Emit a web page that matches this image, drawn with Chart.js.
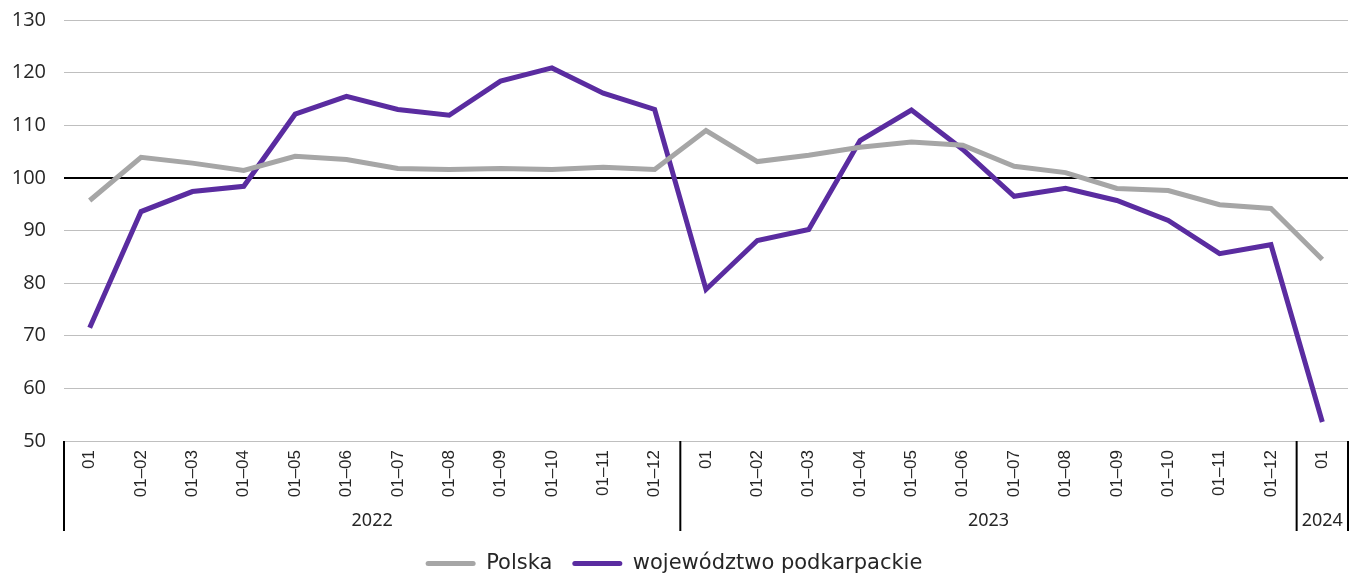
<!DOCTYPE html>
<html>
<head>
<meta charset="utf-8">
<script src="https://cdn.jsdelivr.net/npm/chart.js@4.4.1/dist/chart.umd.min.js"></script>
<style>
  html, body { margin: 0; padding: 0; background: #fff; }
  #wrap { width: 1355px; height: 576px; position: relative; }
</style>
</head>
<body>
<div id="wrap"><canvas id="chart"></canvas></div>
<script>
(function() {
	'use strict';

	// month labels, grouped by year
	var months = [
		'01', '01–02', '01–03', '01–04', '01–05', '01–06', '01–07', '01–08', '01–09', '01–10', '01–11', '01–12',
		'01', '01–02', '01–03', '01–04', '01–05', '01–06', '01–07', '01–08', '01–09', '01–10', '01–11', '01–12',
		'01'
	];
	var years = ['2022', '2023', '2024'];
	var yearSizes = [12, 12, 1];

	var polska = [95.7, 103.9, 102.8, 101.4, 104.1, 103.5, 101.8, 101.6, 101.8, 101.6, 102.0, 101.6,
		109.0, 103.1, 104.3, 105.8, 106.8, 106.2, 102.2, 101.0, 98.0, 97.6, 94.9, 94.2,
		84.5];
	var podkarpackie = [71.5, 93.6, 97.4, 98.4, 112.1, 115.5, 113.0, 111.9, 118.4, 120.9, 116.1, 113.0,
		78.8, 88.1, 90.2, 107.1, 112.9, 105.4, 96.5, 98.0, 95.7, 91.9, 85.6, 87.3,
		53.6];

	var textColor = '#262626';

	// separators + year labels under the month ticks
	var yearGroups = {
		id: 'yearGroups',
		afterDraw: function(chart) {
			var ctx = chart.ctx;
			var x = chart.scales.x;
			var area = chart.chartArea;
			var top = area.bottom;
			var bottom = area.bottom + 90;
			var bounds = [area.left];
			var idx = 0;
			yearSizes.forEach(function(n) {
				idx += n;
				if (idx >= months.length) {
					bounds.push(area.right);
				} else {
					bounds.push((x.getPixelForValue(idx - 1) + x.getPixelForValue(idx)) / 2);
				}
			});
			ctx.save();
			ctx.strokeStyle = '#000';
			ctx.lineWidth = 2;
			bounds.forEach(function(b) {
				ctx.beginPath();
				ctx.moveTo(b, top);
				ctx.lineTo(b, bottom);
				ctx.stroke();
			});
			ctx.fillStyle = textColor;
			ctx.font = '18px "Noto Sans"';
			ctx.textAlign = 'center';
			ctx.textBaseline = 'middle';
			years.forEach(function(y, i) {
				ctx.fillText(y, (bounds[i] + bounds[i + 1]) / 2, area.bottom + 80);
			});
			ctx.restore();
		}
	};

	var ctx = document.getElementById('chart').getContext('2d');
	new Chart(ctx, {
		type: 'line',
		data: {
			labels: months,
			datasets: [{
				label: 'Polska',
				data: polska,
				borderColor: '#a6a6a6',
				backgroundColor: '#a6a6a6',
				borderWidth: 5,
				pointRadius: 0,
				tension: 0
			}, {
				label: 'województwo podkarpackie',
				data: podkarpackie,
				borderColor: '#5a2ca0',
				backgroundColor: '#5a2ca0',
				borderWidth: 5,
				pointRadius: 0,
				tension: 0
			}]
		},
		options: {
			responsive: true,
			maintainAspectRatio: false,
			animation: false,
			layout: {
				padding: { top: 20, right: 7, left: 0, bottom: -8 }
			},
			plugins: {
				tooltip: { enabled: false },
				legend: {
					position: 'bottom',
					labels: {
						boxWidth: 50,
						boxHeight: 5,
						padding: 20,
						color: textColor,
						font: { family: '"DejaVu Sans"', size: 21 },
						generateLabels: function(chart) {
							return chart.data.datasets.map(function(ds, i) {
								return {
									text: ds.label,
									fillStyle: ds.borderColor,
									strokeStyle: ds.borderColor,
									lineWidth: 0,
									borderRadius: 2.5,
									fontColor: textColor,
									datasetIndex: i,
									hidden: false
								};
							});
						}
					}
				}
			},
			scales: {
				x: {
					offset: true,
					grid: { display: false, drawTicks: false, offset: true },
					border: { display: false },
					ticks: {
						autoSkip: false,
						minRotation: 90,
						maxRotation: 90,
						padding: 9,
						color: textColor,
						font: { family: '"Liberation Sans"', size: 17 }
					},
					afterFit: function(scale) { scale.height = 92; }
				},
				y: {
					min: 50,
					max: 130,
					border: { display: false },
					grid: {
						drawTicks: false,
						color: function(c) { return c.tick && c.tick.value === 100 ? '#000' : '#bfbfbf'; },
						lineWidth: function(c) { return c.tick && c.tick.value === 100 ? 2 : 1; }
					},
					ticks: {
						stepSize: 10,
						padding: 18,
						color: textColor,
						font: { family: '"Open Sans"', size: 20 }
					},
					afterFit: function(scale) {
						scale.width = 64;
						scale.paddingTop = 0;
						scale.paddingBottom = 0;
					}
				}
			}
		},
		plugins: [yearGroups]
	});
})();
</script>
</body>
</html>
